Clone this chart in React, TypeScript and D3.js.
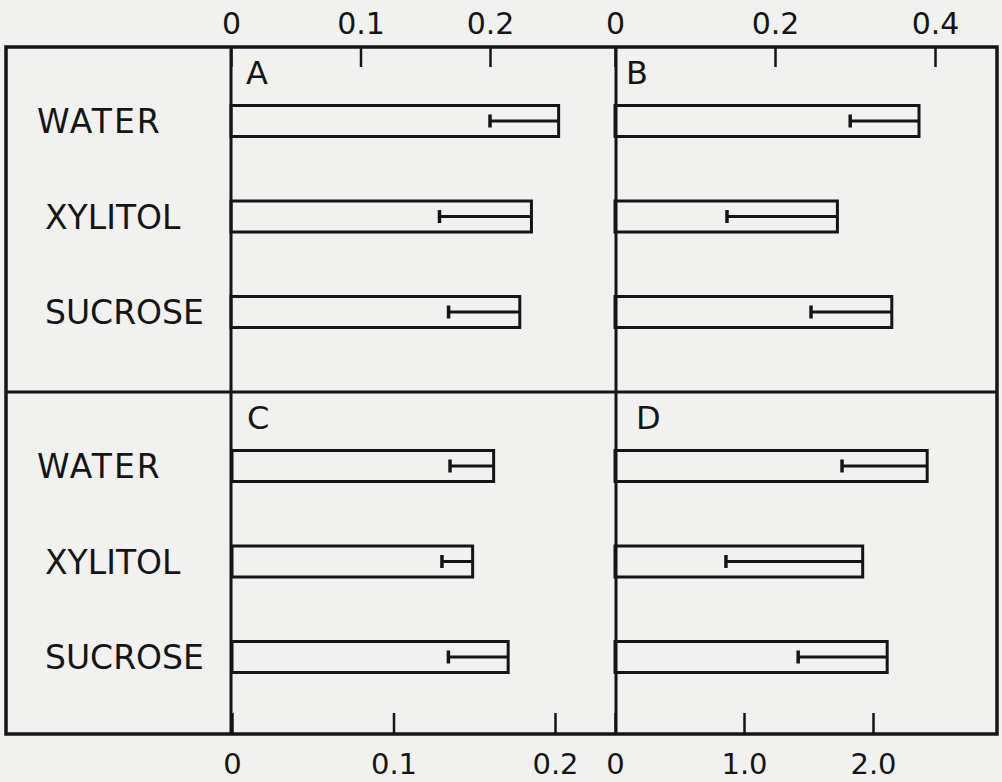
import React, { useEffect, useRef } from 'react';
import * as d3 from 'd3';

// row categories, same order in every panel
const categories = ['WATER', 'XYLITOL', 'SUCROSE'];

// bar means and the error (drawn inward from the bar end)
const valuesA = [0.253, 0.232, 0.223];
const errorsA = [0.053, 0.071, 0.055];
const valuesB = [0.38, 0.278, 0.346];
const errorsB = [0.086, 0.138, 0.101];
const valuesC = [0.162, 0.149, 0.171];
const errorsC = [0.027, 0.019, 0.037];
const valuesD = [2.42, 1.92, 2.11];
const errorsD = [0.66, 1.06, 0.69];

// tick values for each axis
const ticksA = [0, 0.1, 0.2];
const ticksB = [0, 0.2, 0.4];
const ticksC = [0, 0.1, 0.2];
const ticksD = [0, 1.0, 2.0];

const App = () => {
  const svgRef = useRef(null);

  useEffect(() => {
    document.body.style.margin = '0';

    const width = 1002;
    const height = 782;
    const frame = { left: 6, right: 997, top: 47, bottom: 734, mid: 392 };
    const zeroLeft = 231;
    const zeroRight = 616;
    const ink = '#151515';
    const font = 'DejaVu Sans, sans-serif';

    const svg = d3.select(svgRef.current);
    svg.selectAll('*').remove();

    svg.append('rect').attr('width', width).attr('height', height).attr('fill', '#f1f1f0');

    // x scales for the four panels
    const xA = d3.scaleLinear().domain([0, 0.2]).range([zeroLeft, zeroLeft + 259]);
    const xB = d3.scaleLinear().domain([0, 0.4]).range([zeroRight - 1, zeroRight + 319]);
    const xC = d3.scaleLinear().domain([0, 0.2]).range([zeroLeft + 1, zeroLeft + 324]);
    const xD = d3.scaleLinear().domain([0, 2]).range([zeroRight - 1, zeroRight + 257]);

    const panels = [
      { name: 'A', x: xA, values: valuesA, errors: errorsA, top: frame.top, letterX: 246 },
      { name: 'B', x: xB, values: valuesB, errors: errorsB, top: frame.top, letterX: 626 },
      { name: 'C', x: xC, values: valuesC, errors: errorsC, top: frame.mid, letterX: 247 },
      { name: 'D', x: xD, values: valuesD, errors: errorsD, top: frame.mid, letterX: 636 },
    ];

    // axes: top for A/B, bottom for C/D, ticks pointing inward
    const fmt = (d) => (d === 0 ? '0' : d3.format('.1f')(d));
    const drawAxis = (scale, ticks, where) => {
      const axis =
        where === 'top'
          ? d3.axisTop(scale).tickValues(ticks).tickFormat(fmt).tickSizeInner(-20).tickSizeOuter(0).tickPadding(13)
          : d3.axisBottom(scale).tickValues(ticks).tickFormat(fmt).tickSizeInner(-21).tickSizeOuter(0).tickPadding(19);
      const g = svg
        .append('g')
        .attr('transform', `translate(0, ${where === 'top' ? frame.top : frame.bottom})`)
        .call(axis);
      g.select('.domain').remove();
      g.selectAll('line').attr('stroke', ink).attr('stroke-width', 2.5);
      g.selectAll('text')
        .attr('fill', ink)
        .style('font-family', font)
        .style('font-size', where === 'top' ? '30px' : '29px');
    };
    drawAxis(xA, ticksA, 'top');
    drawAxis(xB, ticksB, 'top');
    drawAxis(xC, ticksC, 'bottom');
    drawAxis(xD, ticksD, 'bottom');

    // frame and dividers
    svg
      .append('rect')
      .attr('x', frame.left)
      .attr('y', frame.top)
      .attr('width', frame.right - frame.left)
      .attr('height', frame.bottom - frame.top)
      .attr('fill', 'none')
      .attr('stroke', ink)
      .attr('stroke-width', 3.5);
    svg
      .append('line')
      .attr('x1', frame.left)
      .attr('x2', frame.right)
      .attr('y1', frame.mid)
      .attr('y2', frame.mid)
      .attr('stroke', ink)
      .attr('stroke-width', 3);
    [zeroLeft, zeroRight].forEach((x) => {
      svg
        .append('line')
        .attr('x1', x)
        .attr('x2', x)
        .attr('y1', frame.top)
        .attr('y2', frame.bottom)
        .attr('stroke', ink)
        .attr('stroke-width', 3);
    });

    const barH = 31;
    const capH = 13;

    panels.forEach((p) => {
      const y = d3
        .scalePoint()
        .domain(categories)
        .range([p.top + 74, p.top + 265]);

      // category labels (only once per row of panels)
      if (p.name === 'A' || p.name === 'C') {
        svg
          .append('g')
          .selectAll('text')
          .data(categories)
          .enter()
          .append('text')
          .attr('x', (d, i) => (i === 0 ? 37 : 45))
          .attr('y', (d) => y(d) + 12)
          .attr('fill', ink)
          .style('font-family', font)
          .style('font-size', '33px')
          .style('letter-spacing', (d, i) => (i === 0 ? '2px' : '0px'))
          .text((d) => d);
      }

      svg
        .append('text')
        .attr('x', p.letterX)
        .attr('y', p.top + 37)
        .attr('fill', ink)
        .style('font-family', font)
        .style('font-size', '32px')
        .text(p.name);

      const x0 = p.x(0);
      const rows = categories.map((c, i) => ({ c, v: p.values[i], e: p.errors[i] }));

      const g = svg.append('g');
      g.selectAll('rect')
        .data(rows)
        .enter()
        .append('rect')
        .attr('x', x0)
        .attr('y', (d) => y(d.c) - barH / 2)
        .attr('width', (d) => p.x(d.v) - x0)
        .attr('height', barH)
        .attr('fill', 'none')
        .attr('stroke', ink)
        .attr('stroke-width', 3);

      g.selectAll('line.err')
        .data(rows)
        .enter()
        .append('line')
        .attr('class', 'err')
        .attr('x1', (d) => p.x(d.v - d.e))
        .attr('x2', (d) => p.x(d.v))
        .attr('y1', (d) => y(d.c))
        .attr('y2', (d) => y(d.c))
        .attr('stroke', ink)
        .attr('stroke-width', 3);

      g.selectAll('line.cap')
        .data(rows)
        .enter()
        .append('line')
        .attr('class', 'cap')
        .attr('x1', (d) => p.x(d.v - d.e))
        .attr('x2', (d) => p.x(d.v - d.e))
        .attr('y1', (d) => y(d.c) - capH / 2)
        .attr('y2', (d) => y(d.c) + capH / 2)
        .attr('stroke', ink)
        .attr('stroke-width', 3.5);
    });
  }, []);

  return <svg ref={svgRef} width={1002} height={782} style={{ display: 'block' }}></svg>;
};

export default App;
